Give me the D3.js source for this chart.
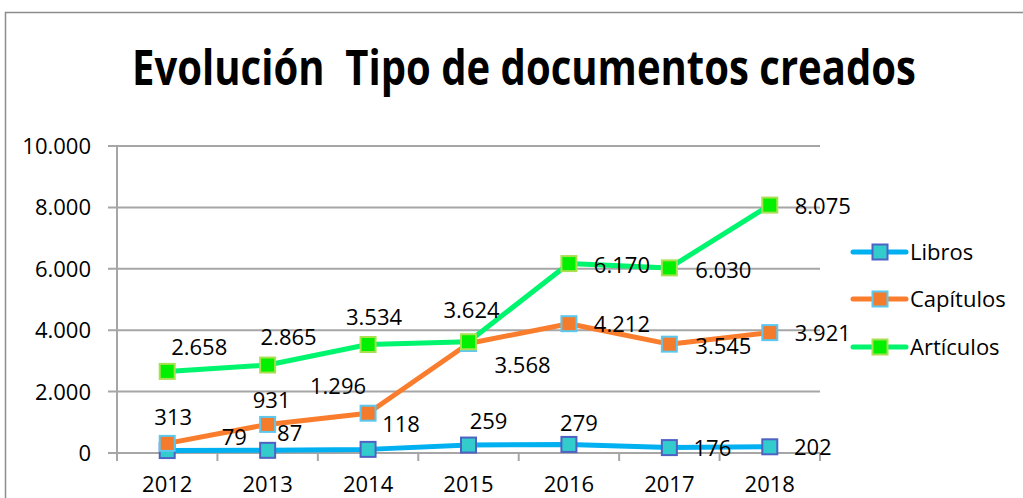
<!DOCTYPE html>
<html>
<head>
<meta charset="utf-8">
<script src="https://cdn.jsdelivr.net/npm/d3@7"></script>
<style>
  body { margin: 0; background: #fff; }
  text { font-family: "Open Sans", sans-serif; fill: #000; }
  .title { white-space: pre; }
</style>
</head>
<body>
<svg id="chart" width="1023" height="498"></svg>
<script>
"use strict";

// data
const years = ["2012", "2013", "2014", "2015", "2016", "2017", "2018"];
const libros = [79, 87, 118, 259, 279, 176, 202];
const capitulos = [313, 931, 1296, 3568, 4212, 3545, 3921];
const articulos = [2658, 2865, 3534, 3624, 6170, 6030, 8075];
const yTicks = [0, 2000, 4000, 6000, 8000, 10000];
const seriesNames = ["Libros", "Capítulos", "Artículos"];

// label nudges (px from the point), like the hand-moved excel labels
const librosOff = [[67,-13],[22,-17],[33,-25],[20,-24],[10,-21],[43,0],[43,0]];
const capitulosOff = [[6,-26],[4,-24],[-30,-27],[54,22],[53,0],[54,2],[53,0]];
const articulosOff = [[32,-24],[21,-28],[6,-27],[3,-32],[53,1],[54,2],[53,1]];

const series = [
  { name: seriesNames[0], values: libros, off: librosOff, line: "#00b0f0", fill: "#33cccc", stroke: "#4f62c4" },
  { name: seriesNames[1], values: capitulos, off: capitulosOff, line: "#f97d2c", fill: "#f47b2b", stroke: "#5cc8f0" },
  { name: seriesNames[2], values: articulos, off: articulosOff, line: "#00f56e", fill: "#00f000", stroke: "#a8e050" }
];

const svg = d3.select("#chart");
const fmt = d3.formatLocale({ decimal: ",", thousands: ".", grouping: [3], currency: ["", ""] }).format(",d");

// chart border (only top + left show in the crop)
svg.append("path")
  .attr("d", "M5.5,498 L5.5,12.5 L1023,12.5")
  .attr("fill", "none").attr("stroke", "#8c8c8c").attr("stroke-width", 1.5);

// title - squeezed horizontally so it looks like the narrow calibri original
var titleG = svg.append("g");
var title = titleG.append("text")
  .attr("class", "title")
  .attr("text-anchor", "middle")
  .attr("font-size", 49).attr("font-weight", "bold")
  .text("Evolución  Tipo de documentos creados");
var tw = title.node().getComputedTextLength();
titleG.attr("transform", "translate(524,85) scale(" + (784 / tw) + ",1)");

var x = d3.scaleBand().domain(years).range([117, 820]);
var y = d3.scaleLinear().domain([0, 10000]).range([453, 146]);

const gridColor = "#a6a6a6";

// horizontal gridlines + y ticks
svg.append("g").selectAll("line").data(yTicks).enter().append("line")
  .attr("x1", 108).attr("x2", 820)
  .attr("y1", d => y(d)).attr("y2", d => y(d))
  .attr("stroke", gridColor).attr("stroke-width", 2);

svg.append("g").selectAll("text").data(yTicks).enter().append("text")
  .attr("x", 91).attr("y", d => y(d))
  .attr("dy", "0.36em")
  .attr("text-anchor", "end")
  .attr("font-size", 22)
  .text(d => fmt(d));

// y axis line
svg.append("line")
  .attr("x1", 117).attr("x2", 117).attr("y1", y(10000)).attr("y2", 461)
  .attr("stroke", gridColor).attr("stroke-width", 2);

// x tick marks at band edges
const edges = years.map(d => x(d)).concat([x.range()[1]]);
svg.append("g").selectAll("line").data(edges).enter().append("line")
  .attr("x1", d => d).attr("x2", d => d)
  .attr("y1", y(0)).attr("y2", 461)
  .attr("stroke", gridColor).attr("stroke-width", 2);

svg.append("g").selectAll("text").data(years).enter().append("text")
  .attr("x", d => x(d) + x.bandwidth() / 2).attr("y", 484)
  .attr("dy", "0.36em")
  .attr("text-anchor", "middle")
  .attr("font-size", 22)
  .text(d => d);

const cx = (d, i) => x(years[i]) + x.bandwidth() / 2;
const line = d3.line().x(cx).y(d => y(d));
const ms = 15;

series.forEach(function (s) {
  var g = svg.append("g");
  g.append("path")
    .attr("d", line(s.values))
    .attr("fill", "none").attr("stroke", s.line)
    .attr("stroke-width", 5).attr("stroke-linejoin", "round");
  g.selectAll("rect").data(s.values).enter().append("rect")
    .attr("x", (d, i) => cx(d, i) - ms / 2)
    .attr("y", d => y(d) - ms / 2)
    .attr("width", ms).attr("height", ms)
    .attr("fill", s.fill).attr("stroke", s.stroke).attr("stroke-width", 2);
});

// data labels on top of everything
series.forEach(function (s) {
  svg.append("g").selectAll("text").data(s.values).enter().append("text")
    .attr("x", (d, i) => cx(d, i) + s.off[i][0])
    .attr("y", (d, i) => y(d) + s.off[i][1])
    .attr("dy", "0.36em")
    .attr("text-anchor", "middle")
    .attr("font-size", 22)
    .text(d => fmt(d));
});

// legend
const legY = [252, 299, 347];
var leg = svg.append("g").selectAll("g").data(series).enter().append("g")
  .attr("transform", (d, i) => "translate(0," + legY[i] + ")");
leg.append("line")
  .attr("x1", 853).attr("x2", 906)
  .attr("stroke", d => d.line).attr("stroke-width", 5).attr("stroke-linecap", "round");
leg.append("rect")
  .attr("x", 880 - ms / 2).attr("y", -ms / 2)
  .attr("width", ms).attr("height", ms)
  .attr("fill", d => d.fill).attr("stroke", d => d.stroke).attr("stroke-width", 2);
leg.append("text")
  .attr("x", 910).attr("dy", "0.36em")
  .attr("font-size", 22)
  .text(d => d.name);
</script>
</body>
</html>
